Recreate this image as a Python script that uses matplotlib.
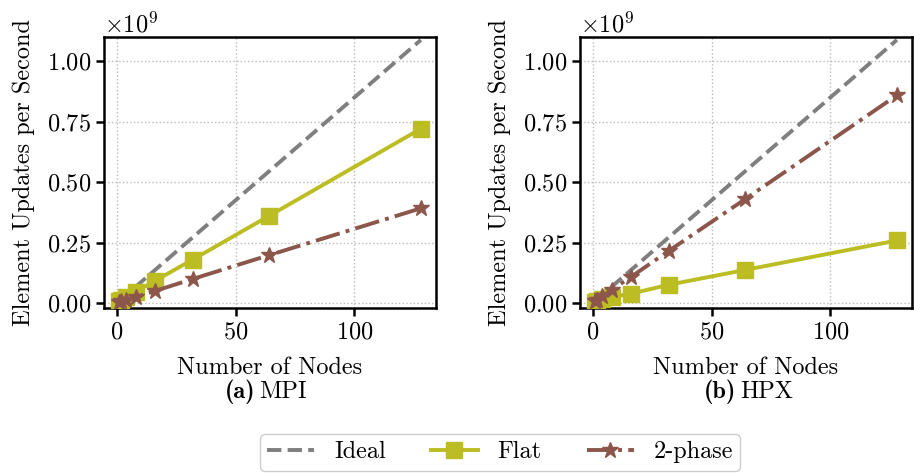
import matplotlib
matplotlib.use("Agg")
import matplotlib.pyplot as plt

plt.rcParams['font.family'] = 'serif'
plt.rcParams['font.serif'] = ['cmr10']
plt.rcParams['mathtext.fontset'] = 'cm'
plt.rcParams['axes.formatter.use_mathtext'] = True
plt.rcParams['font.size'] = 17.5

# Daten (in 1e9 Updates/s)
nodes = [1, 2, 4, 8, 16, 32, 64, 128]
ideal = [0.0085, 0.017, 0.034, 0.068, 0.136, 0.272, 0.544, 1.088]
mpi_flat = [0.008, 0.014, 0.025, 0.047, 0.092, 0.18, 0.36, 0.721]
mpi_2phase = [0.005, 0.008, 0.014, 0.026, 0.05, 0.1, 0.198, 0.392]
hpx_flat = [0.006, 0.010, 0.016, 0.025, 0.039, 0.076, 0.137, 0.259]
hpx_2phase = [0.008, 0.015, 0.028, 0.055, 0.108, 0.216, 0.429, 0.859]

panels = [("(a)", "MPI", mpi_flat, mpi_2phase), ("(b)", "HPX", hpx_flat, hpx_2phase)]
lefts = [0.1138, 0.6346]
cap_x = [0.2815, 0.8075]

fig = plt.figure(figsize=(9.14, 4.75), dpi=100)
for left, cx, (tag, name, flat, two) in zip(lefts, cap_x, panels):
    ax = fig.add_axes([left, 0.3516, 0.3632, 0.5705])
    ax.plot(nodes, [v * 1e9 for v in ideal], '--', color='tab:gray', lw=2.8, label='Ideal', zorder=2)
    ax.plot(nodes, [v * 1e9 for v in flat], '-', color='tab:olive', lw=2.8, marker='s', ms=11, label='Flat', zorder=3)
    ax.plot(nodes, [v * 1e9 for v in two], '-.', color='tab:brown', lw=2.8, marker='*', ms=12, label='2-phase', zorder=4)
    ax.set_ylim(-0.02e9, 1.1e9)
    ax.set_yticks([0, 0.25e9, 0.5e9, 0.75e9, 1.0e9])
    ax.set_xticks([0, 50, 100])
    ax.yaxis.set_major_formatter(matplotlib.ticker.ScalarFormatter(useMathText=True))
    ax.ticklabel_format(axis='y', style='sci', scilimits=(9, 9))
    ax.grid(True, linestyle=':', color='#bbbbbb', lw=1)
    for s in ax.spines.values():
        s.set_linewidth(1.8)
    ax.tick_params(width=1.8, length=6)
    ax.set_xlabel('Number of Nodes', labelpad=10)
    ax.set_ylabel('Element Updates per Second', labelpad=8)
    fig.text(cx - 0.002, 0.175, tag, ha='right', va='center', fontfamily='cmb10')
    fig.text(cx + 0.002, 0.175, name, ha='left', va='center')

handles, labels = ax.get_legend_handles_labels()
fig.legend(handles, labels, loc='center', bbox_to_anchor=(0.547, 0.048), ncol=3,
           fancybox=True, edgecolor='#cccccc', framealpha=1,
           columnspacing=1.85, handlelength=1.95, handletextpad=0.8, borderpad=0.3)

fig.savefig("out.png", dpi=100)
